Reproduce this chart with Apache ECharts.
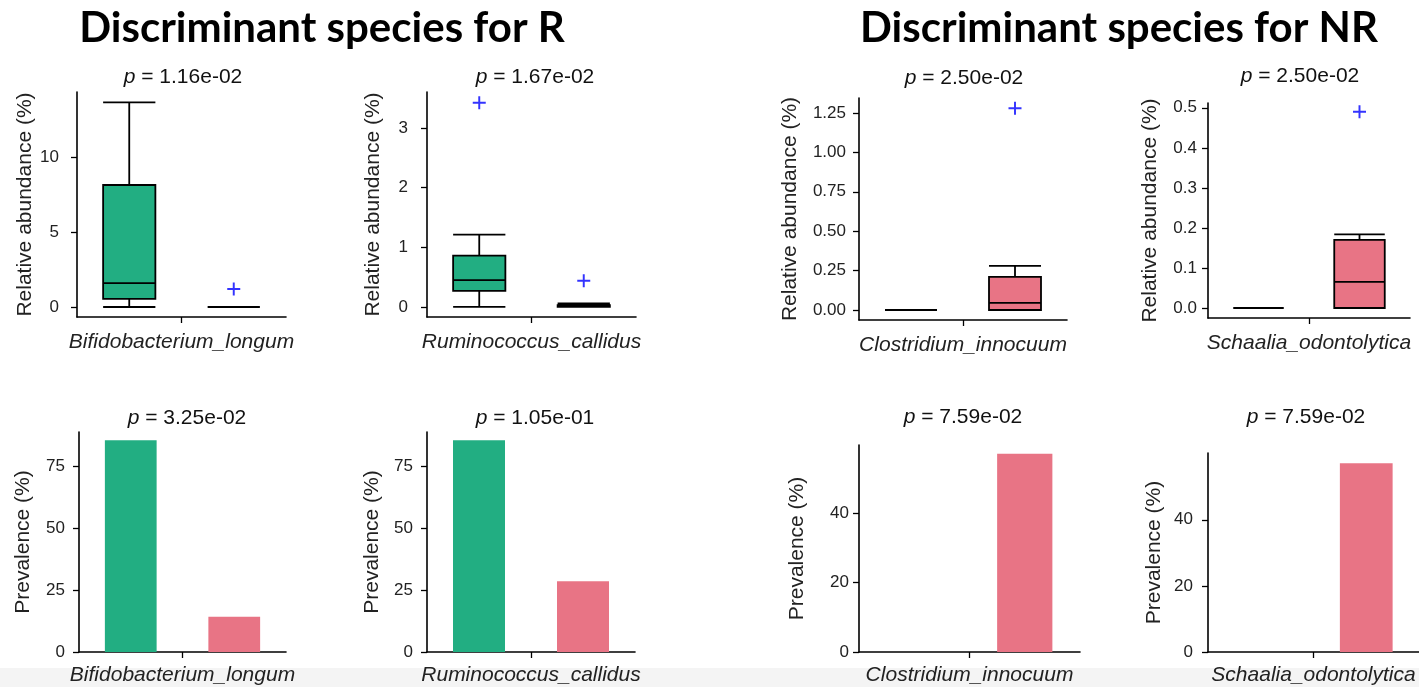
<!DOCTYPE html>
<html>
<head>
<meta charset="utf-8">
<title>Discriminant species</title>
<script src="https://cdn.jsdelivr.net/npm/echarts@6/dist/echarts.min.js"></script>
<style>
  html, body { margin: 0; padding: 0; background: #fff; }
  #chart { width: 1419px; height: 687px; }
</style>
</head>
<body>
<div id="chart"></div>
<script>
// ---- data ----
const groups = ['R', 'NR']
const species = ['Bifidobacterium_longum', 'Ruminococcus_callidus', 'Clostridium_innocuum', 'Schaalia_odontolytica']
const abundancePValues = ['1.16e-02', '1.67e-02', '2.50e-02', '2.50e-02']
const prevalencePValues = ['3.25e-02', '1.05e-01', '7.59e-02', '7.59e-02']

// box stats: [min, Q1, median, Q3, max]
const boxR = [[0, 0.54, 1.6, 8.17, 13.7], [0, 0.27, 0.45, 0.86, 1.21], [0, 0, 0, 0, 0], [0, 0, 0, 0, 0]]
const boxNR = [[0, 0, 0, 0, 0], [0, 0, 0.01, 0.03, 0.06], [0, 0, 0.045, 0.21, 0.28], [0, 0, 0.065, 0.17, 0.184]]
const outliersR = [null, 3.42, null, null]
const outliersNR = [1.2, 0.44, 1.28, 0.49]

const prevalenceR = [85.7, 85.7, 0, 0]
const prevalenceNR = [14.3, 28.6, 57.1, 57.1]

// tick labels
const abundanceTickLabels = [
  ['0', '5', '10'],
  ['0', '1', '2', '3'],
  ['0.00', '0.25', '0.50', '0.75', '1.00', '1.25'],
  ['0.0', '0.1', '0.2', '0.3', '0.4', '0.5']
]
const prevalenceTickLabels = [['0', '25', '50', '75'], ['0', '25', '50', '75'], ['0', '20', '40'], ['0', '20', '40']]
const abundanceMin = [-0.67, -0.168, -0.0635, -0.025]
const abundanceMax = [14.4, 3.6, 1.345, 0.512]
const prevalenceMax = [89, 89, 59.6, 60.2]

// ---- layout ----
// [left, top, width, height]
const abundanceGrids = [[77, 92, 209, 225], [427, 92, 209, 225], [859, 98, 208, 222], [1208, 103, 202, 215]]
const prevalenceGrids = [[79, 432, 207, 221], [427, 432, 208, 221], [859, 445, 221, 210], [1208, 453, 211, 200]]
const abundanceNameGap = [40, 43, 58, 47]
const prevalenceNameGap = [45, 44, 51, 43]
const abundanceLabelMargin = [18, 19, 13, 11]
const prevalenceLabelMargin = [14, 14, 10, 15]
const abundanceTitleXY = [[183, 77], [535, 77], [964, 78], [1300, 76]]
const prevalenceTitleXY = [[187, 418], [535, 418], [963, 417], [1306, 417]]

const colorR = '#22AE82'
const colorNR = '#E87485'
const FONT = '"Liberation Sans", Arial, sans-serif'
const plusPath = 'path://M0,5.1H12V6.9H0Z M5.1,0H6.9V12H5.1Z'

const grid = []
const xAxis = []
const yAxis = []
const series = []
const graphic = [
  // 底部灰条
  { type: 'rect', z: -10, shape: { x: 0, y: 668, width: 1419, height: 19 }, style: { fill: '#f4f4f4' } },
  {
    type: 'text', x: 322, y: 28,
    style: { text: 'Discriminant species for R', align: 'center', verticalAlign: 'middle', fontSize: 42, fontWeight: 'bold', fontFamily: 'Lato', fill: '#000' }
  },
  {
    type: 'text', x: 1119, y: 28,
    style: { text: 'Discriminant species for NR', align: 'center', verticalAlign: 'middle', fontSize: 42, fontWeight: 'bold', fontFamily: 'Lato', fill: '#000' }
  }
]

function pTitle(xy, p) {
  return {
    type: 'text', x: xy[0], y: xy[1],
    style: {
      text: '{i|p} = ' + p, align: 'center', verticalAlign: 'middle',
      fontSize: 21, fontFamily: FONT, fill: '#111',
      rich: { i: { fontStyle: 'italic', fontSize: 21, fontFamily: FONT, fill: '#111' } }
    }
  }
}

function addAxes(g, rect, k, yName, min, max, tickLabels, nameGap, labelMargin, xNameGap) {
  const ticks = tickLabels.map(s => parseFloat(s))
  grid.push({ left: rect[0], top: rect[1], width: rect[2], height: rect[3] })
  // 隐藏的分组轴, 用来放箱体/柱子
  xAxis.push({ type: 'category', gridIndex: g, position: 'bottom', data: groups, show: false })
  // 显示物种名的轴, 中间一个刻度
  xAxis.push({
    type: 'value', gridIndex: g, position: 'bottom', min: 0, max: 2,
    name: species[k], nameLocation: 'middle', nameGap: xNameGap,
    nameTextStyle: { fontStyle: 'italic', fontSize: 21, fontFamily: FONT, color: '#222' },
    splitLine: { show: false },
    axisLine: { show: true, onZero: false, lineStyle: { color: '#000', width: 1.6 } },
    axisTick: { show: true, length: 6, customValues: [1], lineStyle: { color: '#000', width: 1.3 } },
    axisLabel: { show: false }
  })
  yAxis.push({
    type: 'value', gridIndex: g, min: min, max: max,
    name: yName, nameLocation: 'middle', nameGap: nameGap,
    nameTextStyle: { fontSize: 21, fontFamily: FONT, color: '#222' },
    splitLine: { show: false },
    axisLine: { show: true, onZero: false, lineStyle: { color: '#000', width: 1.6 } },
    axisTick: { show: true, length: 6, customValues: ticks, lineStyle: { color: '#000', width: 1.3 } },
    axisLabel: {
      customValues: ticks, fontSize: 17, fontFamily: FONT, color: '#222', margin: labelMargin,
      formatter: v => tickLabels[ticks.indexOf(v)]
    }
  })
}

for (let k = 0; k < 4; k++) {
  // 上排: 相对丰度箱线图
  const g = k
  addAxes(g, abundanceGrids[k], k, 'Relative abundance (%)', abundanceMin[k], abundanceMax[k],
    abundanceTickLabels[k], abundanceNameGap[k], abundanceLabelMargin[k], 15)
  series.push({
    type: 'boxplot', xAxisIndex: 2 * g, yAxisIndex: g, silent: true,
    boxWidth: ['50%', '50%'],
    itemStyle: { borderColor: '#000', borderWidth: 1.8 },
    data: [
      { value: boxR[k], itemStyle: { color: colorR, borderColor: '#000' } },
      { value: boxNR[k], itemStyle: { color: colorNR, borderColor: '#000' } }
    ]
  })
  const pts = []
  if (outliersR[k] != null) pts.push([0, outliersR[k]])
  if (outliersNR[k] != null) pts.push([1, outliersNR[k]])
  series.push({
    type: 'scatter', xAxisIndex: 2 * g, yAxisIndex: g, silent: true,
    symbol: plusPath, symbolSize: 13, itemStyle: { color: '#0000ff' },
    data: pts
  })
  graphic.push(pTitle(abundanceTitleXY[k], abundancePValues[k]))
}

for (let k = 0; k < 4; k++) {
  // 下排: 检出率柱状图
  const g = 4 + k
  addAxes(g, prevalenceGrids[k], k, 'Prevalence (%)', 0, prevalenceMax[k],
    prevalenceTickLabels[k], prevalenceNameGap[k], prevalenceLabelMargin[k], 13)
  series.push({
    type: 'bar', xAxisIndex: 2 * g, yAxisIndex: g, silent: true, barWidth: '50%',
    data: [
      { value: prevalenceR[k], itemStyle: { color: colorR } },
      { value: prevalenceNR[k], itemStyle: { color: colorNR } }
    ]
  })
  graphic.push(pTitle(prevalenceTitleXY[k], prevalencePValues[k]))
}

const myChart = echarts.init(document.getElementById('chart'))
myChart.setOption({
  backgroundColor: '#fff',
  animation: false,
  grid: grid,
  xAxis: xAxis,
  yAxis: yAxis,
  series: series,
  graphic: graphic
})
</script>
</body>
</html>
